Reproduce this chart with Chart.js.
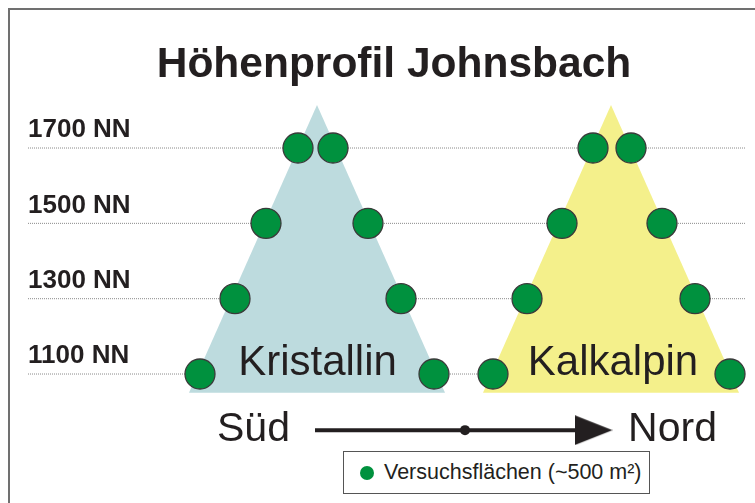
<!DOCTYPE html>
<html>
<head>
<meta charset="utf-8">
<script src="https://cdn.jsdelivr.net/npm/chart.js@4/dist/chart.umd.min.js"></script>
<style>
  html,body{margin:0;padding:0;background:#fff;}
  #wrap{position:relative;width:755px;height:503px;overflow:hidden;font-family:'Liberation Sans',Arial,sans-serif;}
  #frame{position:absolute;left:8px;top:8px;right:0;bottom:0;border-top:2px solid #707070;border-left:2px solid #707070;}
  #c{position:absolute;left:0;top:0;}
  .legend{position:absolute;left:343px;top:451px;width:307px;height:43px;box-sizing:border-box;border:1.5px solid #555;background:#fff;}
  .legend .dot{position:absolute;left:16px;top:14px;width:14px;height:14px;border-radius:50%;background:#00913e;}
  .legend .txt{position:absolute;left:40px;top:0;line-height:40px;font-size:21.5px;color:#231f20;white-space:nowrap;}
</style>
</head>
<body>
<div id="wrap">
  <div id="frame"></div>
  <canvas id="c" width="755" height="503"></canvas>
  <div class="legend"><span class="dot"></span><span class="txt">Versuchsflächen (~500 m²)</span></div>
</div>
<script>
// ── data ─────────────────────────────────────────────────────────
const TITLE='Höhenprofil Johnsbach';
const levels=[1100,1300,1500,1700];           // NN
const levelLabels=levels.map(v=>v+' NN');
const profileSpan=[0,717];                    // Profilstrecke (rel. Einheiten)

const mountainNames=['Kristallin','Kalkalpin'];
const mountainX=[[161,289,417],[455,583,711]]; // Fuß links, Gipfel, Fuß rechts
const mountainY=[1050,1814,1050];
const mountainColors=['#bddbde','#f4f08b'];
const nameX=[289.5,585];
const nameY=1097;

// Versuchsflächen: je Höhenstufe links/rechts
const plotLevels=[1100,1100,1300,1300,1500,1500,1700,1700];
const kristallinPlotX=[172,406,207,373,238,340,270,305];
const kalkalpinPlotX=[465,702,499,667,534,634,565,603];

const directionLabels=['Süd','Nord'];
const directionX=[225.5,644.5];
const directionY=922;
const arrowX=[287,437,565.5];                 // Start, Mittelpunkt, Spitze
const arrowY=951;

// ── helpers ──────────────────────────────────────────────────────
const INK='#231f20';
const FONT="'Liberation Sans', Arial, sans-serif";

const arrowHead=(()=>{
  const c=document.createElement('canvas');c.width=38;c.height=30;
  const g=c.getContext('2d');g.fillStyle=INK;
  g.beginPath();g.moveTo(0,0);g.lineTo(38,15);g.lineTo(0,30);g.closePath();g.fill();
  return c;
})();

const pts=(xs,ys)=>xs.map((x,i)=>({x,y:Array.isArray(ys)?ys[i]:ys}));

const textMarks={
  id:'textMarks',
  afterDatasetsDraw(chart){
    const {ctx,scales:{x,y}}=chart;
    ctx.save();
    ctx.fillStyle=INK;ctx.textAlign='center';ctx.textBaseline='alphabetic';
    ctx.font='42px '+FONT;
    mountainNames.forEach((n,i)=>ctx.fillText(n,x.getPixelForValue(nameX[i]),y.getPixelForValue(nameY)));
    ctx.font='41px '+FONT;
    directionLabels.forEach((n,i)=>ctx.fillText(n,x.getPixelForValue(directionX[i]),y.getPixelForValue(directionY)));
    ctx.restore();
  }
};

// ── datasets ─────────────────────────────────────────────────────
const datasets=[];
levels.forEach(lv=>datasets.push({
  data:pts(profileSpan,lv),borderColor:'#8a8a8a',borderWidth:1,borderDash:[1,1],
  pointRadius:0,order:3
}));
mountainNames.forEach((n,i)=>datasets.push({
  label:n,data:pts(mountainX[i],mountainY),borderWidth:0,borderColor:'transparent',
  backgroundColor:mountainColors[i],fill:'shape',pointRadius:0,order:2
}));
datasets.push({
  label:'Versuchsflächen (~500 m²)',
  data:[...pts(kristallinPlotX,plotLevels),...pts(kalkalpinPlotX,plotLevels)],
  showLine:false,pointRadius:15,pointBackgroundColor:'#00913e',pointBorderColor:'#3a3a3a',pointBorderWidth:1.3,order:1
});
datasets.push({
  data:pts(arrowX,arrowY),borderColor:INK,borderWidth:4,
  pointRadius:[0,5,15],pointStyle:['circle','circle',arrowHead],
  pointBackgroundColor:INK,pointBorderColor:INK,pointBorderWidth:0,order:0
});

new Chart(document.getElementById('c'),{
  type:'line',
  data:{datasets},
  options:{
    responsive:false,animation:false,
    layout:{autoPadding:false,padding:{left:28,right:-5,top:0,bottom:0}},
    plugins:{
      legend:{display:false},tooltip:{enabled:false},
      title:{display:true,text:TITLE,color:INK,font:{family:FONT,size:42.5,weight:'bold'},padding:{top:40,bottom:10}}
    },
    scales:{
      x:{type:'linear',display:false,min:0,max:727},
      y:{
        min:799,max:1824.8,
        afterBuildTicks:a=>{a.ticks=levels.map(v=>({value:v}));},
        grid:{display:false,drawTicks:false},border:{display:false},
        ticks:{mirror:true,padding:0,labelOffset:-18,color:INK,font:{family:FONT,size:26,weight:'bold'},
          callback:v=>levelLabels[levels.indexOf(v)]}
      }
    }
  },
  plugins:[textMarks]
});
</script>
</body>
</html>
